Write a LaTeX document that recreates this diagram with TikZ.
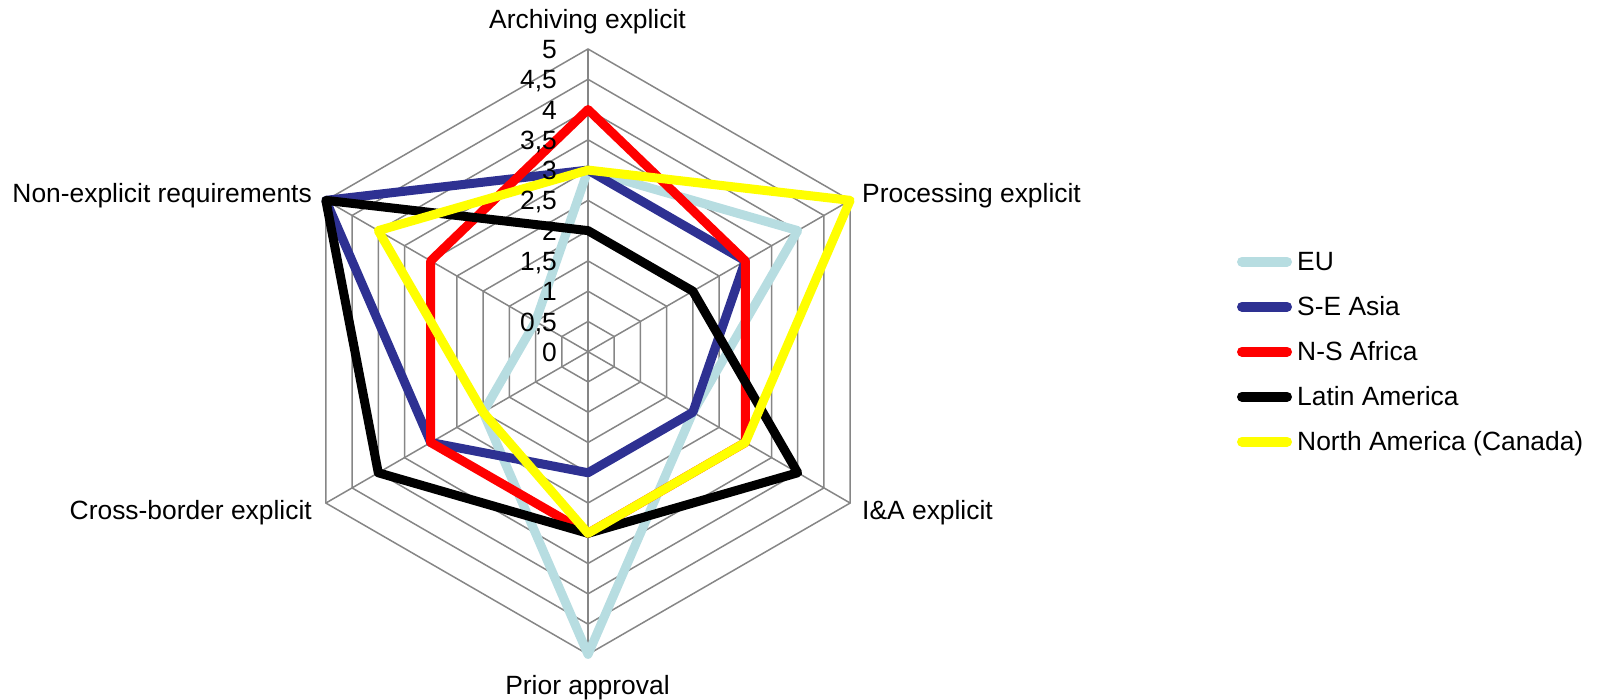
\documentclass[tikz,border=0pt]{standalone}
\usepackage{fontspec}
\setmainfont{Liberation Sans}
\definecolor{gridgray}{RGB}{134,134,134}
\definecolor{euc}{RGB}{183,221,225}
\definecolor{seac}{RGB}{46,49,146}
\definecolor{nsac}{RGB}{255,0,0}
\definecolor{lac}{RGB}{0,0,0}
\definecolor{nac}{RGB}{255,255,0}
\begin{document}
\begin{tikzpicture}[x=1pt,y=1pt,
  gridline/.style={draw=gridgray,line width=1.5pt},
  series/.style={line width=9pt,line join=round},
  keyline/.style={line width=10pt,line cap=round},
  lbl/.style={inner sep=0pt,font=\fontsize{26.4}{31}\selectfont},
]
\useasboundingbox (0,0) rectangle (1598,700);
\def\u{60.54}% length of one unit on the value axis

\begin{scope}[shift={(588,348.3)}]
  % rings every 0.5
  \foreach \k in {1,...,10}
    \draw[gridline] (90:{\k*\u/2}) -- (30:{\k*\u/2}) -- (-30:{\k*\u/2})
      -- (-90:{\k*\u/2}) -- (-150:{\k*\u/2}) -- (150:{\k*\u/2}) -- cycle;
  % spokes
  \coordinate (c) at (0,0);
  \foreach \a [count=\i from 0] in {90,30,-30,-90,-150,150}
    \draw[gridline] (c) -- (\a:{5*\u}) coordinate (ax\i);

  % data series, one value per axis in clockwise order from the top
  \foreach \name/\col/\vals in {
      eu/euc/{3,4,2,5,2,1},
      sea/seac/{3,3,2,2,3,5},
      nsa/nsac/{4,3,3,3,3,3},
      la/lac/{2,2,4,3,4,5},
      na/nac/{3,5,3,3,2,4}} {
    \foreach \v [count=\i from 0] in \vals
      \coordinate (\name\i) at ({90-60*\i}:{\v*\u});
    \draw[series,draw=\col] (\name0) -- (\name1) -- (\name2) -- (\name3)
      -- (\name4) -- (\name5) -- cycle;
  }
\end{scope}

% value axis labels
\foreach \k/\t in {0/0,1/{0,5},2/1,3/{1,5},4/2,5/{2,5},6/3,7/{3,5},8/4,9/{4,5},10/5}
  \node[lbl,anchor=base east] (tick\k) at (557,{348.3+\k*\u/2-9.6}) {\t};

% category labels
\node[lbl,anchor=base] (catA) at (587.5,671.7) {Archiving explicit};
\node[lbl,anchor=base west] (catP) at (862,497) {Processing explicit};
\node[lbl,anchor=base west] (catI) at (862,180) {I\&A explicit};
\node[lbl,anchor=base] (catR) at (587.5,5.5) {Prior approval};
\node[lbl,anchor=base east] (catC) at (312,180) {Cross-border explicit};
\node[lbl,anchor=base east] (catN) at (312,497) {Non-explicit requirements};

% legend
\foreach \col/\txt [count=\i from 0] in {euc/EU,seac/S-E Asia,nsac/N-S Africa,lac/Latin America,nac/North America (Canada)} {
  \coordinate (k\i a) at (1242,{438.3-45*\i});
  \coordinate (k\i b) at (1287,{438.3-45*\i});
  \draw[keyline,draw=\col] (k\i a) -- (k\i b);
  \node[lbl,anchor=base west] (key\i) at (1297,{438.3-45*\i-9}) {\txt};
}
\end{tikzpicture}
\end{document}
